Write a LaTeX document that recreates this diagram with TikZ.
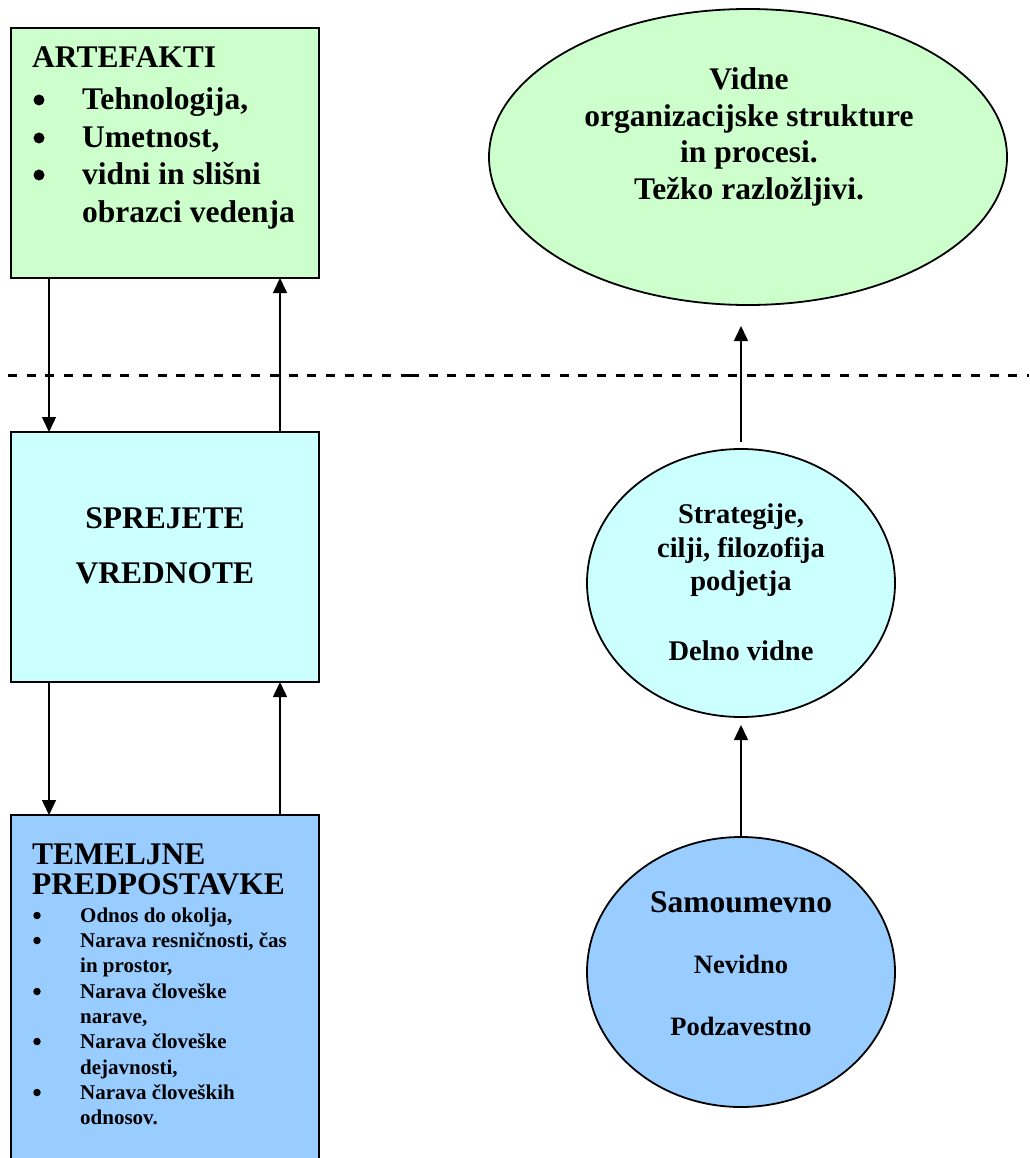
\documentclass[tikz,border=0pt]{standalone}
\usepackage{fontspec}
\setmainfont{Liberation Serif}
\usetikzlibrary{shapes.geometric,arrows.meta,calc}

\definecolor{artgreen}{HTML}{CCFFCC}
\definecolor{valcyan}{HTML}{CCFFFF}
\definecolor{basblue}{HTML}{99CCFF}

\tikzset{
  panel/.style={draw=black, line width=2pt, inner sep=0pt, outer sep=0pt, minimum width=308pt},
  oval/.style={ellipse, draw=black, line width=1.8pt, inner sep=0pt, outer sep=0pt},
  tl/.style={inner sep=0pt, anchor=base west},
  tc/.style={inner sep=0pt, anchor=base},
  bigdot/.style={circle, fill=black, inner sep=0pt, minimum size=11pt},
  smalldot/.style={circle, fill=black, inner sep=0pt, minimum size=7.5pt},
  f32/.style={font=\fontsize{31.5}{31.5}\selectfont\bfseries},
  f28/.style={font=\fontsize{28.5}{28.5}\selectfont\bfseries},
  f26/.style={font=\fontsize{26.5}{26.5}\selectfont\bfseries},
  f21/.style={font=\fontsize{21}{21}\selectfont\bfseries},
  link/.style={line width=1.5pt, -{Triangle[width=14pt,length=15pt]}},
  divider/.style={line width=3pt, dash pattern=on 9pt off 9.7pt},
}

\begin{document}
\begin{tikzpicture}[x=1pt,y=-1pt]
\useasboundingbox (0,0) rectangle (1029,1158);
\clip (0,0) rectangle (1029,1158);

% ---- left column: the three levels ----
\node[panel, fill=artgreen, minimum height=250pt] (art) at (165,153) {};
\node[panel, fill=valcyan,  minimum height=250pt] (val) at (165,557) {};
\node[panel, fill=basblue,  minimum height=380pt] (bas) at (165,1005) {};

% artefacts
\node[tl, f32] (artT) at (32,68) {ARTEFAKTI};
\node[bigdot] (ab1) at (39,100) {};
\node[bigdot] (ab2) at (39,138) {};
\node[bigdot] (ab3) at (39,175) {};
\node[tl, f32] (ai1) at (82,110) {Tehnologija,};
\node[tl, f32] (ai2) at (82,148) {Umetnost,};
\node[tl, f32] (ai3) at (82,185) {vidni in slišni};
\node[tl, f32] (ai4) at (82,223) {obrazci vedenja};

% espoused values
\node[tc, f32] (valT1) at (165,528) {SPREJETE};
\node[tc, f32] (valT2) at (165,583) {VREDNOTE};

% basic assumptions
\node[tl, f32] (basT1) at (32,864) {TEMELJNE};
\node[tl, f32] (basT2) at (32,894) {PREDPOSTAVKE};
\node[smalldot] (bb1) at (37,915.5) {};
\node[smalldot] (bb2) at (37,940.5) {};
\node[smalldot] (bb3) at (37,991.5) {};
\node[smalldot] (bb4) at (37,1041.5) {};
\node[smalldot] (bb5) at (37,1092.5) {};
\node[tl, f21] (bi1) at (80,922)  {Odnos do okolja,};
\node[tl, f21] (bi2) at (80,947)  {Narava resničnosti, čas};
\node[tl, f21] (bi3) at (80,972)  {in prostor,};
\node[tl, f21] (bi4) at (80,998)  {Narava človeške};
\node[tl, f21] (bi5) at (80,1023) {narave,};
\node[tl, f21] (bi6) at (80,1048) {Narava človeške};
\node[tl, f21] (bi7) at (80,1074) {dejavnosti,};
\node[tl, f21] (bi8) at (80,1099) {Narava človeških};
\node[tl, f21] (bi9) at (80,1124) {odnosov.};

% links between the levels
\draw[link] ($(art.south west)+(38,0)$)  -- ($(val.north west)+(38,0)$);
\draw[link] ($(val.north west)+(269,0)$) -- ($(art.south west)+(269,0)$);
\draw[link] ($(val.south west)+(38,0)$)  -- ($(bas.north west)+(38,0)$);
\draw[link] ($(bas.north west)+(269,0)$) -- ($(val.south west)+(269,0)$);

% ---- right column: visibility ----
\node[oval, fill=artgreen, minimum width=518pt, minimum height=296pt] (vis) at (748,157) {};
\node[oval, fill=valcyan,  minimum width=308pt, minimum height=268pt] (par) at (741,583) {};
\node[oval, fill=basblue,  minimum width=308pt, minimum height=270pt] (sam) at (741,972) {};

\node[tc, f32] (vis1) at (749,90)  {Vidne};
\node[tc, f32] (vis2) at (749,127) {organizacijske strukture};
\node[tc, f32] (vis3) at (749,163) {in procesi.};
\node[tc, f32] (vis4) at (749,200) {Težko razložljivi.};

\node[tc, f28] (par1) at (741,523) {Strategije,};
\node[tc, f28] (par2) at (741,557) {cilji, filozofija};
\node[tc, f28] (par3) at (741,590) {podjetja};
\node[tc, f28] (par4) at (741,660) {Delno vidne};

\node[tc, f32] (sam1) at (741,912)  {Samoumevno};
\node[tc, f26] (sam2) at (741,973)  {Nevidno};
\node[tc, f26] (sam3) at (741,1035) {Podzavestno};

\draw[link] (sam.north) -- ($(par.south)+(0,8)$);
\draw[link] ($(par.north)+(0,-7)$) -- ($(vis.south -| par.north)+(0,21)$);

% boundary between visible and hidden
\coordinate (dl) at (8,375);
\coordinate (dm) at (410,375);
\coordinate (dr) at (1029,375);
\draw[divider] (dl) -- (dm);
\draw[divider] (dm) -- (dr);
\end{tikzpicture}
\end{document}
